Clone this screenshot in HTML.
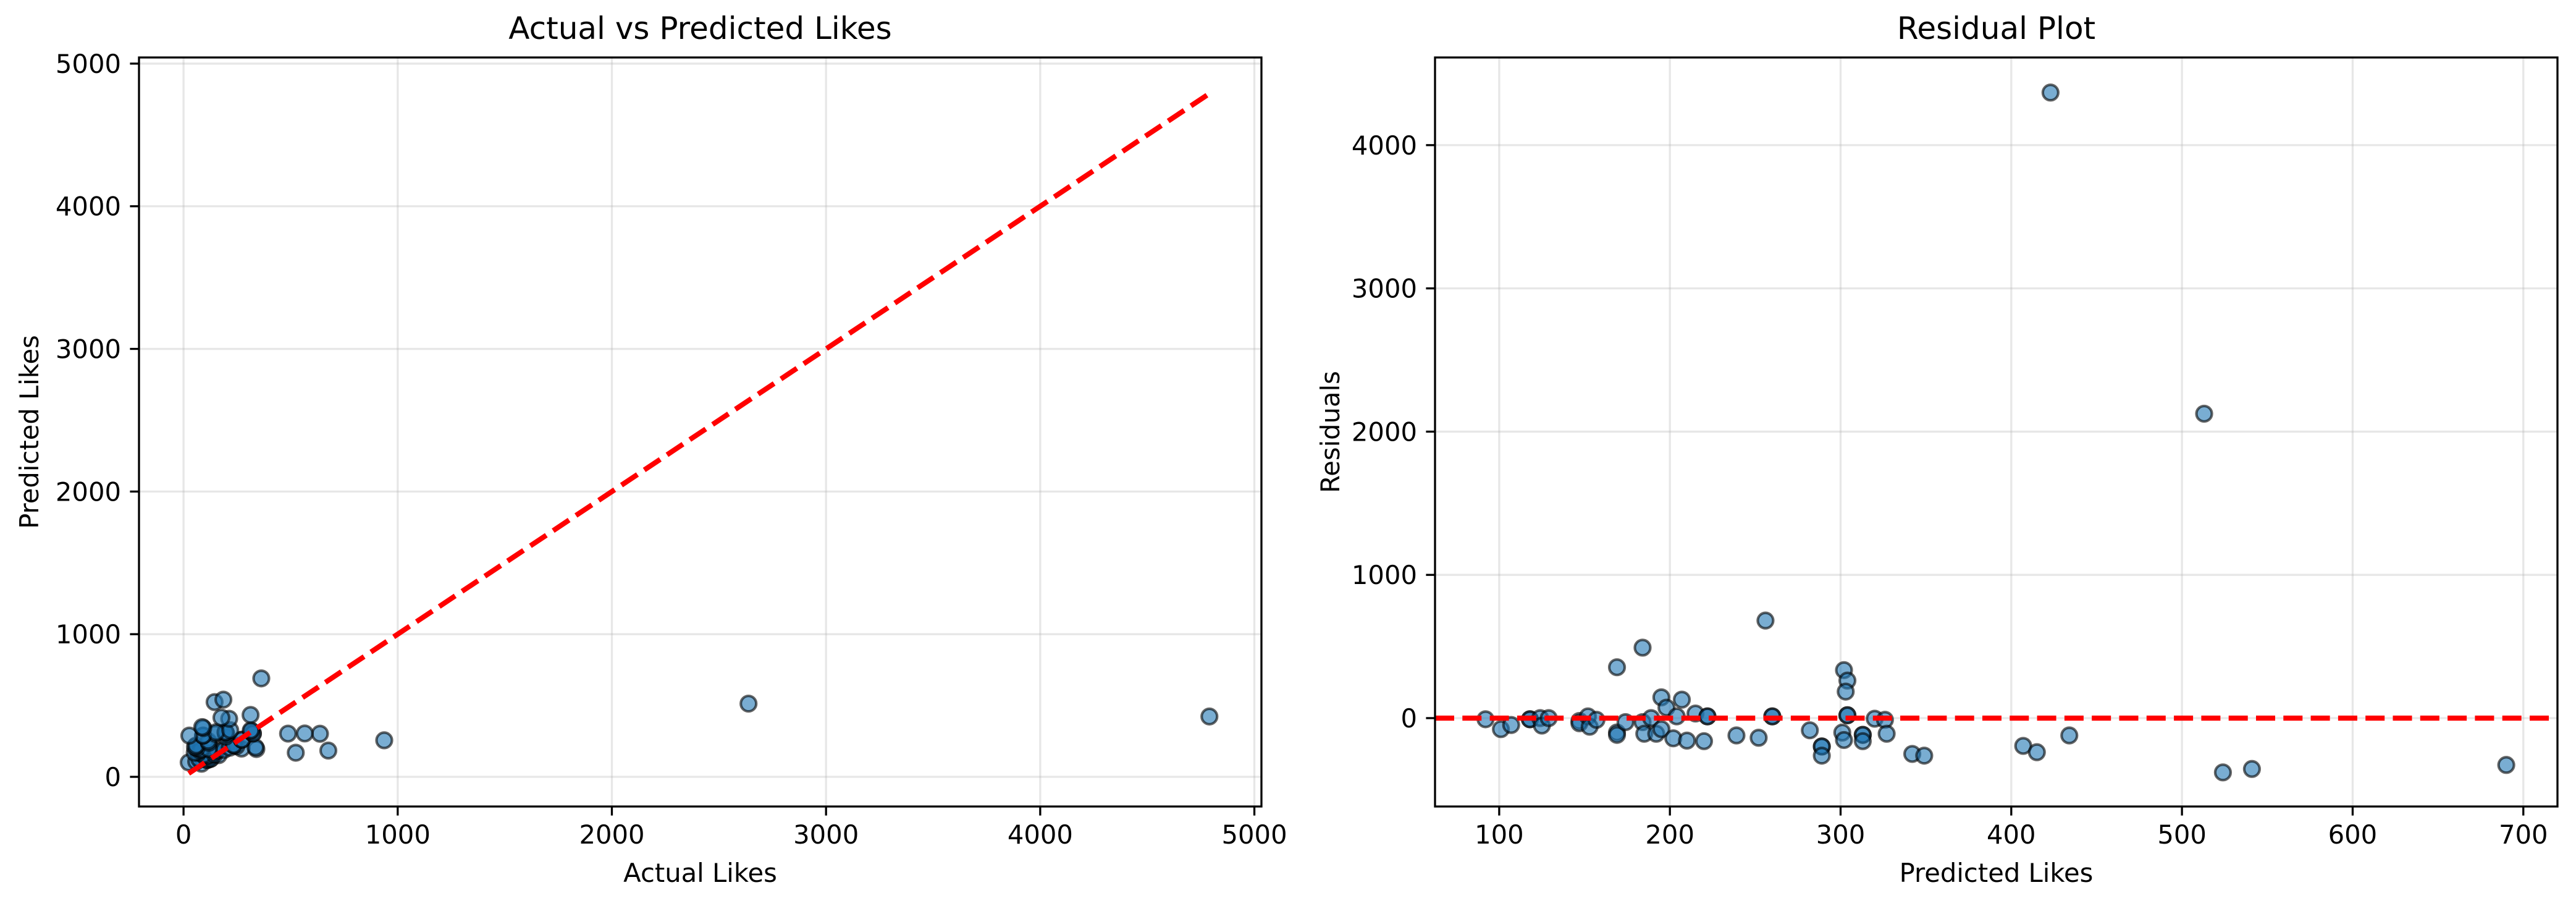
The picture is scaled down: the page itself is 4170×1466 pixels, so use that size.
<!DOCTYPE html>
<html><head><meta charset="utf-8">
<style>
html,body{margin:0;padding:0;background:#fff;}
svg{display:block;font-family:"DejaVu Sans","Liberation Sans",sans-serif;}
</style></head>
<body>
<svg id="fig" width="4170" height="1466" viewBox="0 0 4170 1466" xmlns="http://www.w3.org/2000/svg">
<rect width="4170" height="1466" fill="#fff"/>
<g id="left"></g>
<g id="right"></g>
</svg>
<script>
const predicted = [92,101,107,118,118,124,125,129,147,147,152,153,157,169,169,169,174,184,184,185,189,192,195,195,198,202,204,207,210,215,220,222,222,239,252,256,260,260,282,301,302,304,303,302,304,304,289,289,289,313,313,313,320,326,327,342,349,407,415,434,423,513,524,541,690];
const residuals = [-8,-77,-48,-8,-8,0,-52,0,-20,-36,12,-60,-12,355,-100,-117,-28,492,-28,-109,0,-109,145,-77,73,-141,12,129,-157,32,-161,12,12,-121,-137,681,12,12,-85,-101,335,262,185,-153,20,20,-198,-198,-262,-117,-117,-161,-4,-12,-109,-250,-262,-194,-238,-121,4367,2125,-379,-355,-327];
const actual = [84,24,59,110,110,124,73,129,127,111,164,93,145,524,69,52,146,676,156,76,189,83,340,118,271,61,216,336,53,247,59,234,234,118,115,937,272,272,197,200,637,566,488,149,324,324,91,91,27,196,196,152,316,314,218,92,87,213,177,313,4790,2638,145,186,363];
const leftXTicks = [0,1000,2000,3000,4000,5000];
const leftYTicks = [0,1000,2000,3000,4000,5000];
const rightXTicks = [100,200,300,400,500,600,700];
const rightYTicks = [0,1000,2000,3000,4000];

const NS = "http://www.w3.org/2000/svg";
function mk(parent, tag, attrs, text){
  const e = document.createElementNS(NS, tag);
  for (const k in attrs) e.setAttribute(k, attrs[k]);
  if (text !== undefined) e.textContent = text;
  parent.appendChild(e);
  return e;
}

function drawChart(g, cfg){
  const {L,R,T,B,xmin,xmax,ymin,ymax} = cfg;
  const sx = v => L + (v - xmin) / (xmax - xmin) * (R - L);
  const sy = v => B - (v - ymin) / (ymax - ymin) * (B - T);
  // grid
  cfg.xt.forEach(t => {
    const l = mk(g,'line',{x1:sx(t),x2:sx(t),y1:T,y2:B,stroke:'#b0b0b0','stroke-opacity':0.3,'stroke-width':3.3});
    
    
  });
  cfg.yt.forEach(t => {
    const l = mk(g,'line',{x1:L,x2:R,y1:sy(t),y2:sy(t),stroke:'#b0b0b0','stroke-opacity':0.3,'stroke-width':3.3});
    
    
  });
  // points
  const pts = mk(g,'g',{});
  
  
  cfg.xs.forEach((v,i) => {
    const c = mk(pts,'circle',{cx:sx(v),cy:sy(cfg.ys[i]),r:12.5,fill:'#1f77b4','fill-opacity':0.6,stroke:'#000','stroke-opacity':0.6,'stroke-width':4.2});
    
    
  });
  // reference line
  const rl = mk(g,'line',{x1:sx(cfg.line[0]),y1:sy(cfg.line[1]),x2:sx(cfg.line[2]),y2:sy(cfg.line[3]),stroke:'#ff0000','stroke-width':8.3,'stroke-dasharray':'31 13.3'});
  
  
  // frame
  const fr = mk(g,'rect',{x:L,y:T,width:R-L,height:B-T,fill:'none',stroke:'#000','stroke-width':3.3});
  
  
  // ticks
  cfg.xt.forEach(t => {
    mk(g,'line',{x1:sx(t),x2:sx(t),y1:B,y2:B+14.6,stroke:'#000','stroke-width':3.3});
    const tx = mk(g,'text',{x:sx(t),y:B+60,'font-size':41.7,'text-anchor':'middle',fill:'#000'},String(t));
    
    
  });
  cfg.yt.forEach(t => {
    mk(g,'line',{x1:L-14.6,x2:L,y1:sy(t),y2:sy(t),stroke:'#000','stroke-width':3.3});
    const tx = mk(g,'text',{x:L-29,y:sy(t)+15,'font-size':41.7,'text-anchor':'end',fill:'#000'},String(t));
    
    
  });
  const ti = mk(g,'text',{x:(L+R)/2,y:T-30,'font-size':50,'text-anchor':'middle',fill:'#000'},cfg.title);
  
  
  const xl = mk(g,'text',{x:(L+R)/2,y:1427,'font-size':41.7,'text-anchor':'middle',fill:'#000'},cfg.xlabel);
  
  
  const cy = (T+B)/2;
  const yl = mk(g,'text',{x:cfg.ylx,y:cy,'font-size':41.7,'text-anchor':'middle',fill:'#000',transform:`rotate(-90 ${cfg.ylx} ${cy})`},cfg.ylabel);
  
  
}

const amin = Math.min(...actual), amax = Math.max(...actual);
drawChart(document.getElementById('left'), {
  L:225,R:2042,T:93,B:1305,xmin:-208,xmax:5033,ymin:-208,ymax:5043,
  xs:actual, ys:predicted, xt:leftXTicks, yt:leftYTicks,
  line:[amin,amin,amax,amax], lineName:'perfect-prediction-line',
  title:'Actual vs Predicted Likes', xlabel:'Actual Likes', ylabel:'Predicted Likes', ylx:62
});
drawChart(document.getElementById('right'), {
  L:2323,R:4140,T:93,B:1305,xmin:62.4,xmax:720,ymin:-617,ymax:4612,
  xs:predicted, ys:residuals, xt:rightXTicks, yt:rightYTicks,
  line:[62.4,0,720,0], lineName:'zero-residual-line',
  title:'Residual Plot', xlabel:'Predicted Likes', ylabel:'Residuals', ylx:2168
});
</script>
</body></html>
